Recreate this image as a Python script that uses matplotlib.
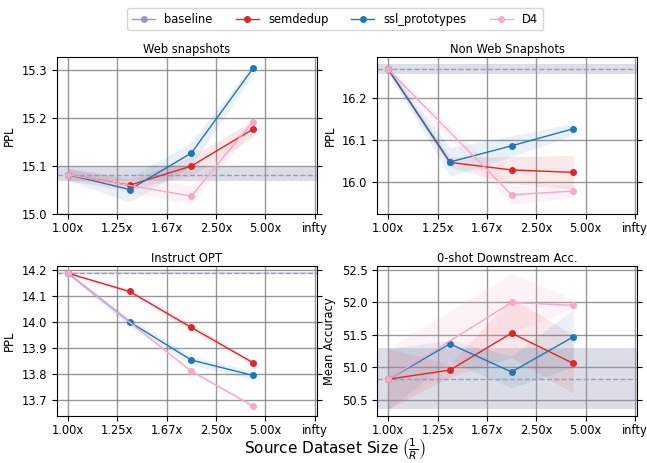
import matplotlib.pyplot as plt
import numpy as np

# fraction of data removed (0 = full dataset)
x_full = [0, 0.25, 0.5, 0.75]
x_d4 = [0, 0.5, 0.75]
tick_pos = [0, 0.2, 0.4, 0.6, 0.8, 1.0]
tick_labels = ["1.00x", "1.25x", "1.67x", "2.50x", "5.00x", "infty"]

titles = ["Web snapshots", "Non Web Snapshots", "Instruct OPT", "0-shot Downstream Acc."]
ylabels = ["PPL", "PPL", "PPL", "Mean Accuracy"]

# baseline mean, low, high
baseline = [(15.082, 15.068, 15.097), (16.270, 16.258, 16.282),
            (14.186, 14.182, 14.190), (50.815, 50.35, 51.29)]

semdedup = [[15.082, 15.060, 15.100, 15.177],
            [16.270, 16.046, 16.028, 16.022],
            [14.186, 14.116, 13.978, 13.843],
            [50.815, 50.956, 51.527, 51.059]]
semdedup_lo = [[15.070, 15.050, 15.080, 15.160],
               [16.262, 16.035, 15.995, 15.982],
               [14.182, 14.108, 13.968, 13.835],
               [50.35, 50.85, 51.15, 50.60]]
semdedup_hi = [[15.095, 15.070, 15.120, 15.195],
               [16.278, 16.060, 16.060, 16.063],
               [14.190, 14.126, 13.990, 13.852],
               [51.29, 51.05, 52.07, 51.50]]

ssl = [[15.082, 15.051, 15.127, 15.304],
       [16.270, 16.047, 16.086, 16.127],
       [14.186, 13.999, 13.853, 13.794],
       [50.815, 51.360, 50.927, 51.468]]
ssl_lo = [[15.070, 15.025, 15.100, 15.292],
          [16.262, 16.012, 16.060, 16.112],
          [14.182, 13.980, 13.835, 13.778],
          [50.35, 51.10, 50.68, 51.00]]
ssl_hi = [[15.095, 15.075, 15.150, 15.314],
          [16.278, 16.082, 16.110, 16.140],
          [14.190, 14.015, 13.868, 13.810],
          [51.29, 51.42, 51.17, 51.90]]

d4 = [[15.082, 15.037, 15.193],
      [16.270, 15.968, 15.977],
      [14.186, 13.810, 13.677],
      [50.815, 52.000, 51.956]]
d4_lo = [[15.070, 15.020, 15.180],
         [16.262, 15.945, 15.962],
         [14.182, 13.803, 13.670],
         [50.35, 51.55, 51.90]]
d4_hi = [[15.095, 15.060, 15.200],
         [16.278, 15.990, 15.992],
         [14.190, 13.818, 13.685],
         [51.29, 52.45, 52.05]]

ylims = [(15.0, 15.328), (15.922, 16.30), (13.639, 14.213), (50.25, 52.56)]
yticks = [[15.0, 15.1, 15.2, 15.3], [16.0, 16.1, 16.2],
          [13.7, 13.8, 13.9, 14.0, 14.1, 14.2], [50.5, 51.0, 51.5, 52.0, 52.5]]

c_base = "#9a99c0"
c_sem = "#e0242a"
c_ssl = "#1f77b4"
c_d4 = "#f6a9c9"

fs = 8.3

fig = plt.figure(figsize=(6.47, 4.63), dpi=100)
positions = [[0.088, 0.538, 0.402, 0.339], [0.583, 0.538, 0.402, 0.339],
             [0.088, 0.102, 0.402, 0.323], [0.583, 0.102, 0.402, 0.323]]

handles = None
for i in range(4):
    ax = fig.add_axes(positions[i])
    b, blo, bhi = baseline[i]
    ax.axhspan(blo, bhi, color="#8a93b0", alpha=0.3, lw=0)
    ax.axhline(b, color=c_base, ls="--", lw=1)
    h0, = ax.plot([], [], color=c_base, marker="o", ms=4, lw=1)

    ax.fill_between(x_full, semdedup_lo[i], semdedup_hi[i], color=c_sem, alpha=0.1, lw=0)
    h1, = ax.plot(x_full, semdedup[i], color=c_sem, marker="o", ms=4, lw=1)
    ax.fill_between(x_full, ssl_lo[i], ssl_hi[i], color=c_ssl, alpha=0.1, lw=0)
    h2, = ax.plot(x_full, ssl[i], color=c_ssl, marker="o", ms=4, lw=1)
    ax.fill_between(x_d4, d4_lo[i], d4_hi[i], color=c_d4, alpha=0.15, lw=0)
    h3, = ax.plot(x_d4, d4[i], color=c_d4, marker="o", ms=4, lw=1)
    handles = [h0, h1, h2, h3]

    ax.set_xticks(tick_pos)
    ax.set_xticklabels(tick_labels)
    ax.set_xlim(-0.045, 1.01)
    ax.set_ylim(*ylims[i])
    ax.set_yticks(yticks[i])
    ax.grid(True, color="gray", lw=1, alpha=0.8)
    ax.set_axisbelow(True)
    ax.tick_params(labelsize=fs, right=True)
    ax.tick_params(axis="x", pad=2.5)
    ax.set_title(titles[i], fontsize=fs, pad=3)
    ax.set_ylabel(ylabels[i], fontsize=fs)

fig.legend(handles, ["baseline", "semdedup", "ssl_prototypes", "D4"],
           loc="upper center", ncol=4, fontsize=fs, bbox_to_anchor=(0.518, 0.995))
fig.text(0.518, 0.002, r"Source Dataset Size $\left(\frac{1}{R}\right)$",
         ha="center", va="bottom", fontsize=11)

plt.savefig("out.png", dpi=100)
